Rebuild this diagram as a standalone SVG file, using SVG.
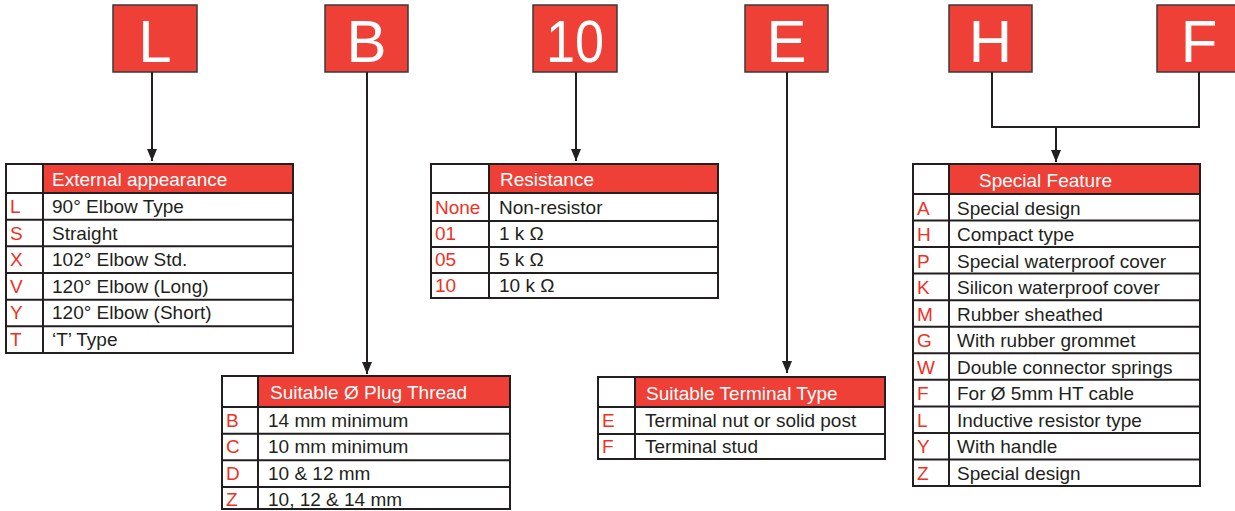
<svg xmlns="http://www.w3.org/2000/svg" width="1235" height="511" viewBox="0 0 1235 511">
<style>
.box{fill:#EE4037;stroke:#3a3a3a;stroke-width:1.5}
.big{font-family:"Liberation Sans",Arial,sans-serif;font-size:60px;fill:#fff;text-anchor:middle}
.tbl{fill:#fff;stroke:#231F20;stroke-width:2}
.hdr{fill:#EE4037}
.ln{stroke:#231F20;stroke-width:2;fill:none}
.ht{font-family:"Liberation Sans",Arial,sans-serif;font-size:19px;fill:#fff}
.tx{font-family:"Liberation Sans",Arial,sans-serif;font-size:19px;fill:#231F20}
.cd{font-family:"Liberation Sans",Arial,sans-serif;font-size:19px;fill:#EE3124}
.cn{stroke:#231F20;stroke-width:2;fill:none}
</style>
<defs>
<marker id="ah" viewBox="0 0 12 12" refX="12" refY="6" markerWidth="12" markerHeight="12" markerUnits="userSpaceOnUse" orient="auto">
<path d="M0,1 L12,6 L0,11 z" fill="#231F20"/>
</marker>
</defs>
<rect width="1235" height="511" fill="#fff"/>

<g id="code-L"><rect class="box" x="113" y="5" width="84" height="67"/><text class="big" x="155" y="62">L</text></g>
<g id="code-B"><rect class="box" x="325" y="5" width="83" height="67"/><text class="big" x="366.5" y="62">B</text></g>
<g id="code-10"><rect class="box" x="533" y="5" width="84" height="67"/><text class="big" x="575" y="62" textLength="58" lengthAdjust="spacingAndGlyphs">10</text></g>
<g id="code-E"><rect class="box" x="745" y="5" width="83" height="67"/><text class="big" x="786.5" y="62">E</text></g>
<g id="code-H"><rect class="box" x="949" y="5" width="83" height="67"/><text class="big" x="990.5" y="62">H</text></g>
<g id="code-F"><rect class="box" x="1157" y="5" width="84" height="67"/><text class="big" x="1199" y="62">F</text></g>

<g id="connectors">
<line class="cn" x1="152" y1="72" x2="152" y2="161" marker-end="url(#ah)"/>
<line class="cn" x1="367" y1="72" x2="367" y2="374" marker-end="url(#ah)"/>
<line class="cn" x1="576" y1="72" x2="576" y2="161" marker-end="url(#ah)"/>
<line class="cn" x1="787" y1="72" x2="787" y2="373" marker-end="url(#ah)"/>
<polyline class="cn" points="992,72 992,127 1199,127 1199,72"/>
<line class="cn" x1="1056" y1="127" x2="1056" y2="162" marker-end="url(#ah)"/>
</g>

<g id="table-external">
<rect class="tbl" x="6" y="164" width="287" height="189"/>
<rect class="hdr" x="43" y="165" width="249" height="28"/>
<path class="ln" d="M43,164V353 M6,193H293 M6,219.7H293 M6,246.3H293 M6,273H293 M6,299.7H293 M6,326.3H293"/>
<text class="ht" x="52" y="186">External appearance</text>
<text class="cd" x="10" y="213">L</text><text class="tx" x="52" y="213">90° Elbow Type</text>
<text class="cd" x="10" y="240">S</text><text class="tx" x="52" y="240">Straight</text>
<text class="cd" x="10" y="266">X</text><text class="tx" x="52" y="266">102° Elbow Std.</text>
<text class="cd" x="10" y="293">V</text><text class="tx" x="52" y="293">120° Elbow (Long)</text>
<text class="cd" x="10" y="319">Y</text><text class="tx" x="52" y="319">120° Elbow (Short)</text>
<text class="cd" x="10" y="346">T</text><text class="tx" x="52" y="346">‘T’ Type</text>
</g>

<g id="table-thread">
<rect class="tbl" x="222" y="376" width="288" height="133"/>
<rect class="hdr" x="258" y="377" width="251" height="30"/>
<path class="ln" d="M258,376V509 M222,407H510 M222,433.7H510 M222,460.3H510 M222,487H510"/>
<text class="ht" x="270" y="399">Suitable Ø Plug Thread</text>
<text class="cd" x="226" y="427">B</text><text class="tx" x="268" y="427">14 mm minimum</text>
<text class="cd" x="226" y="453">C</text><text class="tx" x="268" y="453">10 mm minimum</text>
<text class="cd" x="226" y="480">D</text><text class="tx" x="268" y="480">10 &amp; 12 mm</text>
<text class="cd" x="226" y="506">Z</text><text class="tx" x="268" y="506">10, 12 &amp; 14 mm</text>
</g>

<g id="table-resistance">
<rect class="tbl" x="431" y="164" width="287" height="134"/>
<rect class="hdr" x="489" y="165" width="228" height="28"/>
<path class="ln" d="M489,164V298 M431,193H718 M431,221H718 M431,247H718 M431,273H718"/>
<text class="ht" x="500" y="186">Resistance</text>
<text class="cd" x="435" y="214">None</text><text class="tx" x="499" y="214">Non-resistor</text>
<text class="cd" x="435" y="240">01</text><text class="tx" x="499" y="240">1 k Ω</text>
<text class="cd" x="435" y="266">05</text><text class="tx" x="499" y="266">5 k Ω</text>
<text class="cd" x="435" y="292">10</text><text class="tx" x="499" y="292">10 k Ω</text>
</g>

<g id="table-terminal">
<rect class="tbl" x="598" y="377" width="287" height="82"/>
<rect class="hdr" x="635" y="378" width="249" height="29"/>
<path class="ln" d="M635,377V459 M598,407H885 M598,434H885"/>
<text class="ht" x="646" y="400">Suitable Terminal Type</text>
<text class="cd" x="602" y="427">E</text><text class="tx" x="645" y="427">Terminal nut or solid post</text>
<text class="cd" x="602" y="453">F</text><text class="tx" x="645" y="453">Terminal stud</text>
</g>

<g id="table-special">
<rect class="tbl" x="913" y="164" width="287" height="322"/>
<rect class="hdr" x="949" y="165" width="250" height="29"/>
<path class="ln" d="M949,164V486 M913,194H1200 M913,220.5H1200 M913,247.1H1200 M913,273.6H1200 M913,300.2H1200 M913,326.7H1200 M913,353.3H1200 M913,379.8H1200 M913,406.4H1200 M913,432.9H1200 M913,459.5H1200"/>
<text class="ht" x="979" y="187">Special Feature</text>
<text class="cd" x="917" y="215">A</text><text class="tx" x="957" y="215">Special design</text>
<text class="cd" x="917" y="241">H</text><text class="tx" x="957" y="241">Compact type</text>
<text class="cd" x="917" y="268">P</text><text class="tx" x="957" y="268">Special waterproof cover</text>
<text class="cd" x="917" y="294">K</text><text class="tx" x="957" y="294">Silicon waterproof cover</text>
<text class="cd" x="917" y="321">M</text><text class="tx" x="957" y="321">Rubber sheathed</text>
<text class="cd" x="917" y="347">G</text><text class="tx" x="957" y="347">With rubber grommet</text>
<text class="cd" x="917" y="374">W</text><text class="tx" x="957" y="374">Double connector springs</text>
<text class="cd" x="917" y="400">F</text><text class="tx" x="957" y="400">For Ø 5mm HT cable</text>
<text class="cd" x="917" y="427">L</text><text class="tx" x="957" y="427">Inductive resistor type</text>
<text class="cd" x="917" y="453">Y</text><text class="tx" x="957" y="453">With handle</text>
<text class="cd" x="917" y="480">Z</text><text class="tx" x="957" y="480">Special design</text>
</g>
</svg>
